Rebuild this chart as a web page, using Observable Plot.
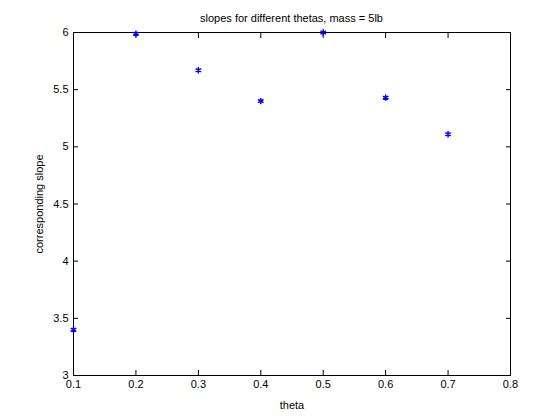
<!DOCTYPE html>
<html>
<head>
<meta charset="utf-8">
<script src="https://cdn.jsdelivr.net/npm/d3@7"></script>
<script src="https://cdn.jsdelivr.net/npm/@observablehq/plot@0.6"></script>
<style>
  body { margin: 0; background: #fff; font-family: "Liberation Sans", Arial, sans-serif; }
  #wrap { position: relative; width: 560px; height: 420px; }
  #title { position: absolute; top: 12px; left: 73px; width: 437px; text-align: center; font-size: 11px; }
</style>
</head>
<body>
<div id="wrap"><div id="title">slopes for different thetas, mass = 5lb</div></div>
<script>
const thetas = [0.1, 0.2, 0.3, 0.4, 0.5, 0.6, 0.7];
const slopes = [3.40, 5.99, 5.67, 5.40, 6.00, 5.43, 5.11];
const xTicks = [0.1, 0.2, 0.3, 0.4, 0.5, 0.6, 0.7, 0.8];
const yTicks = [3, 3.5, 4, 4.5, 5, 5.5, 6];

const data = thetas.map((t, i) => ({theta: t, slope: slopes[i]}));
const blank = () => "";

const chart = Plot.plot({
  width: 560, height: 420,
  marginLeft: 73, marginRight: 50, marginTop: 32, marginBottom: 45,
  style: { fontFamily: "'Liberation Sans', Arial, sans-serif", fontSize: "11px", overflow: "visible" },
  x: { domain: [0.1, 0.8] },
  y: { domain: [3, 6] },
  marks: [
    Plot.frame({ stroke: "#000" }),
    Plot.axisX({ ticks: xTicks, tickSize: -5, tickPadding: 10, label: "theta", labelAnchor: "center", labelArrow: "none", labelOffset: 33, tickFormat: d => String(d) }),
    Plot.axisX({ anchor: "top", ticks: xTicks, tickSize: -5, tickFormat: blank, label: null }),
    Plot.axisY({ ticks: yTicks, tickSize: -5, tickPadding: 10, label: "corresponding slope", labelAnchor: "center", labelArrow: "none", labelOffset: 38, tickFormat: d => String(d) }),
    Plot.axisY({ anchor: "right", ticks: yTicks, tickSize: -5, tickFormat: blank, label: null }),
    Plot.dot(data, { x: "theta", y: "slope", symbol: "asterisk", r: 3, stroke: "#0000ff", strokeWidth: 1.5 })
  ]
});
document.getElementById("wrap").appendChild(chart);
</script>
</body>
</html>
